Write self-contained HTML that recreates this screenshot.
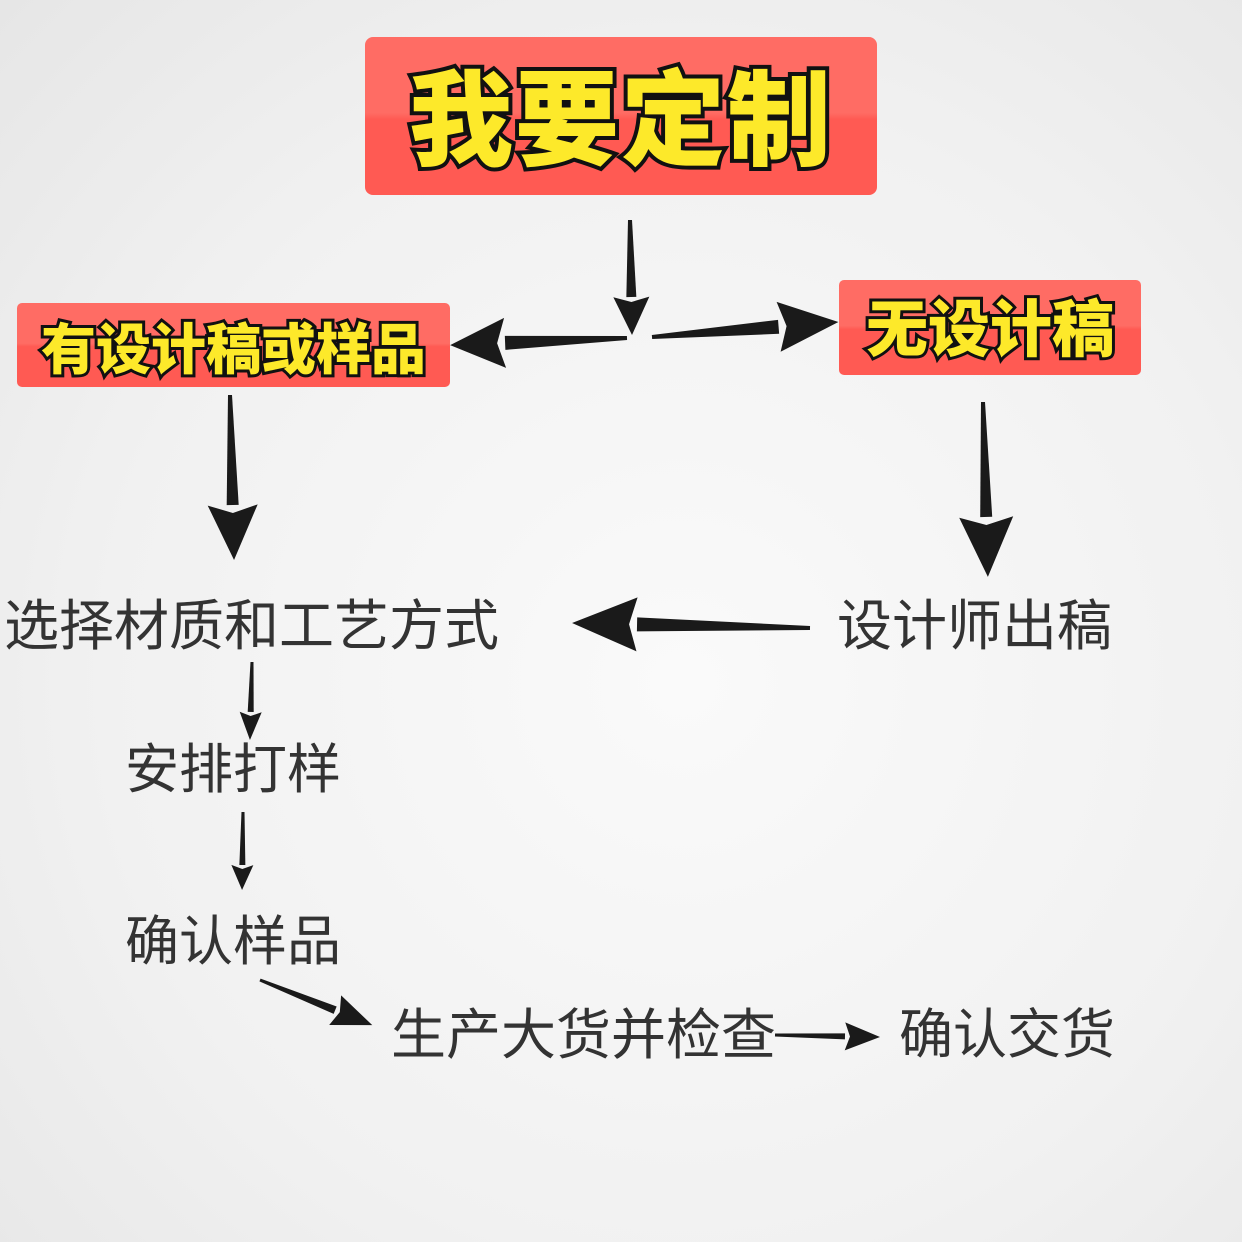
<!DOCTYPE html>
<html><head><meta charset="utf-8"><style>
body{margin:0}
#c{position:relative;width:1242px;height:1242px;overflow:hidden;background:radial-gradient(ellipse at 55% 55%,#fafafa 0%,#f1f1f1 60%,#e6e6e6 100%);font-family:"Liberation Sans","Noto Sans CJK SC",sans-serif}
.box{position:absolute;background:linear-gradient(#ff6c64 0%,#ff6c64 48%,#ff5a53 52%,#ff5a53 100%);border-radius:8px;display:flex;align-items:center;justify-content:center}
.bt{color:#fde92a;font-weight:900;-webkit-text-stroke:3px #111;paint-order:stroke fill;font-family:"Noto Sans CJK SC",sans-serif;white-space:nowrap}
.t{position:absolute;color:#333;font-size:54px;white-space:nowrap;line-height:1;font-family:"Noto Sans CJK SC",sans-serif}
svg{position:absolute;left:0;top:0}
</style></head><body><div id="c">
<div class="box" style="left:365px;top:37px;width:512px;height:158px"><span class="bt" style="font-size:104px;letter-spacing:2px;-webkit-text-stroke:8px #111;margin-top:-10px">我要定制</span></div>
<div class="box" style="left:17px;top:303px;width:433px;height:84px;border-radius:5px"><span class="bt" style="font-size:55px;-webkit-text-stroke:6px #111">有设计稿或样品</span></div>
<div class="box" style="left:839px;top:280px;width:302px;height:95px;border-radius:5px"><span class="bt" style="font-size:62px;-webkit-text-stroke:6px #111;margin-top:-8px">无设计稿</span></div>
<div class="t" style="left:4px;top:594px;font-size:55px">选择材质和工艺方式</div>
<div class="t" style="left:837px;top:594px;font-size:55px">设计师出稿</div>
<div class="t" style="left:125px;top:738px">安排打样</div>
<div class="t" style="left:125px;top:910px">确认样品</div>
<div class="t" style="left:391px;top:1003px;font-size:55px">生产大货并检查</div>
<div class="t" style="left:899px;top:1003px">确认交货</div>
<svg width="1242" height="1242" fill="#1a1a1a">
<g transform="translate(630,220) rotate(89)"><polygon points="0,-2 77,-5 77,5 0,2"/><polygon points="77,-18 115,0 77,18 82,0"/></g>
<g transform="translate(627,338) rotate(177.7)"><polygon points="0,-2 122,-7 122,7 0,2"/><polygon points="122,-25 177,0 122,25 130,0"/></g>
<g transform="translate(652,337) rotate(-4.6)"><polygon points="0,-2 127,-7 127,7 0,2"/><polygon points="127,-25 187,0 127,25 135,0"/></g>
<g transform="translate(230,395) rotate(88.6)"><polygon points="0,-2 110,-6 110,6 0,2"/><polygon points="110,-25 165,0 110,25 118,0"/></g>
<g transform="translate(983,402) rotate(88.4)"><polygon points="0,-2 115,-6 115,6 0,2"/><polygon points="115,-27 175,0 115,27 123,0"/></g>
<g transform="translate(810,628) rotate(181.2)"><polygon points="0,-2 173,-7 173,7 0,2"/><polygon points="173,-27 238,0 173,27 181,0"/></g>
<g transform="translate(252,662) rotate(91.5)"><polygon points="0,-1.5 50,-3 50,3 0,1.5"/><polygon points="50,-11 78,0 50,11 54,0"/></g>
<g transform="translate(243,812) rotate(90.7)"><polygon points="0,-1.5 53,-3 53,3 0,1.5"/><polygon points="53,-11 78,0 53,11 57,0"/></g>
<g transform="translate(260,980) rotate(21.9)"><polygon points="0,-1.5 81,-4 81,4 0,1.5"/><polygon points="81,-16 121,0 81,16 86,0"/></g>
<g transform="translate(775,1035) rotate(1.1)"><polygon points="0,-1.5 70,-3 70,3 0,1.5"/><polygon points="70,-14 105,0 70,14 75,0"/></g>
</svg>
</div></body></html>
